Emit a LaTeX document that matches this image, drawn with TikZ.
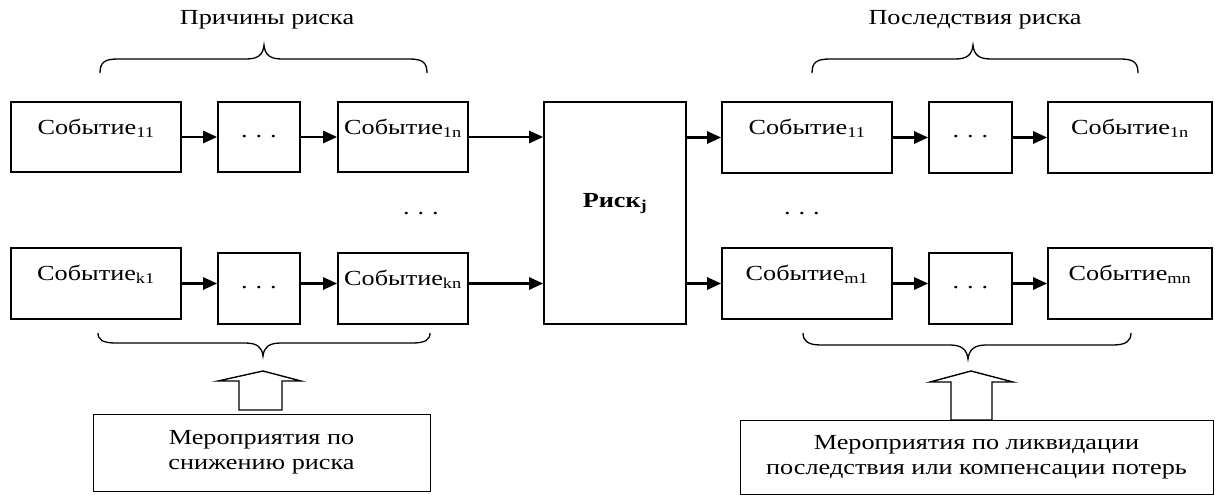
\documentclass[tikz,border=0pt]{standalone}
\usepackage{fontspec}
\setmainfont[FakeStretch=1.22]{Liberation Serif}
\usetikzlibrary{arrows.meta}
\tikzset{
  box/.style={draw, line width=1.6pt, rectangle, inner sep=0pt, text height=15pt, text depth=21pt},
  dotbox/.style={draw, line width=1.6pt, rectangle, inner sep=0pt, text height=0pt, text depth=-14pt},
  riskbox/.style={draw, line width=1.6pt, rectangle, inner sep=0pt, text height=15pt, text depth=27pt},
  measbox/.style={draw, line width=1pt, rectangle, inner sep=0pt, align=center},
  flow/.style={line width=2.6pt, -{Triangle[length=14pt,width=12pt]}},
  brace/.style={line width=1.3pt},
  blockarrow/.style={line width=1.4pt},
  txt/.style={inner sep=0pt}
}
\newcommand{\dd}{.\hspace{0.37em}.\hspace{0.37em}.}
\begin{document}
\begin{tikzpicture}[x=1pt,y=-1pt,font=\fontsize{21.5pt}{25pt}\selectfont]
\useasboundingbox (0,0) rectangle (1215,495);
% titles
\node[txt] (t1) at (267,20) {Причины риска};
\node[txt] (t2) at (975,20) {Последствия риска};
% top braces
\draw[brace] (100,73) .. controls (100,62) and (105,59) .. (118,59) -- (246,59) .. controls (258,59) and (263,55) .. (264,45)
  .. controls (265,55) and (270,59) .. (282,59) -- (409,59) .. controls (422,59) and (427,62) .. (427,73);
\draw[brace] (812,73) .. controls (812,62) and (817,59) .. (830,59) -- (955,59) .. controls (967,59) and (972,55) .. (973,45)
  .. controls (974,55) and (979,59) .. (991,59) -- (1120,59) .. controls (1133,59) and (1138,62) .. (1138,73);
% left boxes
\node[box, minimum width=170pt, minimum height=70pt] (e11) at (96,137) {Событие\textsubscript{11}};
\node[dotbox, minimum width=82pt, minimum height=70pt] (d1) at (259,137) {\dd};
\node[box, minimum width=130pt, minimum height=70pt] (e1n) at (403,137) {Событие\textsubscript{1n}};
\node[box, minimum width=170pt, minimum height=71pt] (ek1) at (96,283.5) {Событие\textsubscript{k1}};
\node[dotbox, minimum width=82pt, minimum height=71pt] (dk) at (259,288.5) {\dd};
\node[box, minimum width=130pt, minimum height=71pt] (ekn) at (403,288.5) {Событие\textsubscript{kn}};
% risk
\node[riskbox, minimum width=142pt, minimum height=222pt] (risk) at (615,213) {\textbf{Риск\textsubscript{j}}};
% right boxes
\node[box, minimum width=170pt, minimum height=71pt] (m11) at (807,137.5) {Событие\textsubscript{11}};
\node[dotbox, minimum width=83pt, minimum height=71pt] (dm1) at (970.5,137.5) {\dd};
\node[box, minimum width=164pt, minimum height=71pt] (m1n) at (1130,137.5) {Событие\textsubscript{1n}};
\node[box, minimum width=170pt, minimum height=71pt] (mm1) at (807,283.5) {Событие\textsubscript{m1}};
\node[dotbox, minimum width=83pt, minimum height=71pt] (dmm) at (970.5,288.5) {\dd};
\node[box, minimum width=164pt, minimum height=71pt] (mmn) at (1130,283.5) {Событие\textsubscript{mn}};
% middle dots
\node[txt] (vd1) at (421,214) {\dd};
\node[txt] (vd2) at (802,214) {\dd};
% arrows
\draw[flow] (e11.east) -- (e11.east -| d1.west);
\draw[flow] (d1.east) -- (d1.east -| e1n.west);
\draw[flow] (e1n.east) -- (e1n.east -| risk.west);
\draw[flow] (ek1.east) -- (ek1.east -| dk.west);
\draw[flow] ([yshift=5pt]dk.east) -- ([yshift=5pt]dk.east -| ekn.west);
\draw[flow] ([yshift=5pt]ekn.east) -- ([yshift=5pt]ekn.east -| risk.west);
\draw[flow] (risk.east |- m11.west) -- (m11.west);
\draw[flow] (risk.east |- mm1.west) -- (mm1.west);
\draw[flow] (m11.east) -- (m11.east -| dm1.west);
\draw[flow] (dm1.east) -- (dm1.east -| m1n.west);
\draw[flow] (mm1.east) -- (mm1.east -| dmm.west);
\draw[flow] ([yshift=5pt]dmm.east) -- ([yshift=5pt]dmm.east -| mmn.west);
% bottom braces
\draw[brace] (98,333) .. controls (98,340) and (103,343) .. (116,343) -- (245,343) .. controls (257,343) and (262,347) .. (263,356)
  .. controls (264,347) and (269,343) .. (281,343) -- (412,343) .. controls (425,343) and (430,340) .. (430,333);
\draw[brace] (803,333) .. controls (803,341) and (808,345) .. (821,345) -- (950,345) .. controls (962,345) and (967,350) .. (968,359)
  .. controls (969,350) and (974,345) .. (986,345) -- (1113,345) .. controls (1126,345) and (1131,341) .. (1131,333);
% block arrows
\draw[blockarrow] (218,381) -- (263,371) -- (301,381) -- (282,381) -- (282,410) -- (239,410) -- (239,381) -- cycle;
\draw[blockarrow] (930,382) -- (971,371) -- (1013,382) -- (992,382) -- (992,420) -- (951,420) -- (951,382) -- cycle;
% measures
\node[measbox, minimum width=337pt, minimum height=77pt] (meas1) at (261.5,452.5) {Мероприятия по\\снижению риска};
\node[measbox, minimum width=473pt, minimum height=74pt] (meas2) at (976.5,457) {Мероприятия по ликвидации\\последствия или компенсации потерь};
\end{tikzpicture}
\end{document}
